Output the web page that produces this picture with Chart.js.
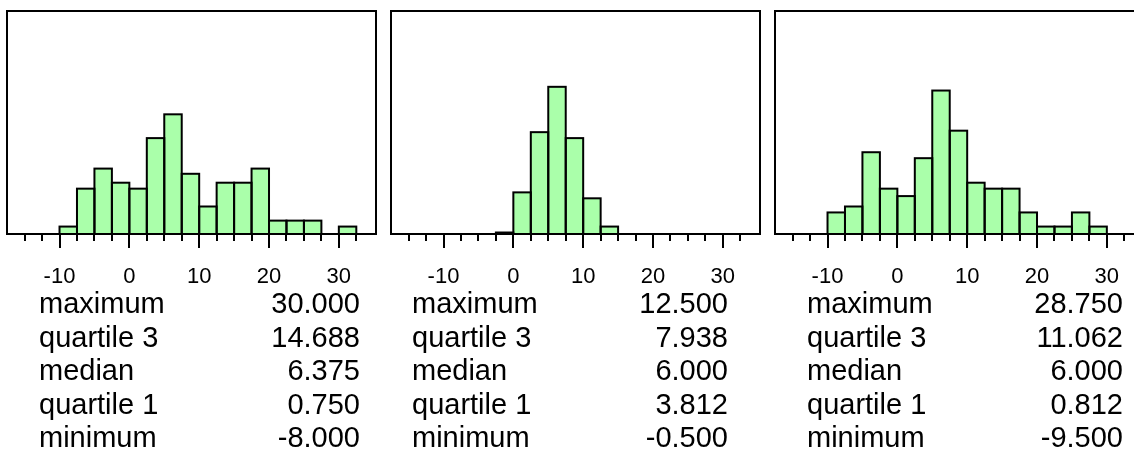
<!DOCTYPE html>
<html>
<head>
<meta charset="utf-8">
<title>Histograms</title>
<script src="https://cdn.jsdelivr.net/npm/chart.js"></script>
<style>
  html, body { margin: 0; padding: 0; background: #fff; overflow: hidden; }
  body { width: 1134px; height: 451px; position: relative; }
  canvas { position: absolute; top: 0; }
</style>
</head>
<body>
<canvas id="hist1" width="389" height="451"></canvas>
<canvas id="hist2" width="389" height="451"></canvas>
<canvas id="hist3" width="389" height="451"></canvas>
<script>
const binCenters1 = [-8.75, -6.25, -3.75, -1.25, 1.25, 3.75, 6.25, 8.75, 11.25, 13.75, 16.25, 18.75, 21.25, 23.75, 26.25, 28.75, 31.25];
const freq1 = [1.0, 6.1, 8.8, 6.9, 6.1, 12.9, 16.1, 8.1, 3.7, 6.9, 6.9, 8.8, 1.8, 1.8, 1.8, null, 1.0];

const binCenters2 = [-1.25, 1.25, 3.75, 6.25, 8.75, 11.25, 13.75];
const freq2 = [0.2, 5.6, 13.7, 19.8, 12.9, 4.8, 1.0];

const binCenters3 = [-8.75, -6.25, -3.75, -1.25, 1.25, 3.75, 6.25, 8.75, 11.25, 13.75, 16.25, 18.75, 21.25, 23.75, 26.25, 28.75];
const freq3 = [2.9, 3.7, 11.0, 6.1, 5.1, 10.2, 19.3, 13.9, 6.9, 6.1, 6.1, 2.9, 1.0, 1.0, 2.9, 1.0];

const statLabels = ["maximum", "quartile 3", "median", "quartile 1", "minimum"];
const stats1 = ["30.000", "14.688", "6.375", "0.750", "-8.000"];
const stats2 = ["12.500", "7.938", "6.000", "3.812", "-0.500"];
const stats3 = ["28.750", "11.062", "6.000", "0.812", "-9.500"];

const tickValues = [-15, -12.5, -10, -7.5, -5, -2.5, 0, 2.5, 5, 7.5, 10, 12.5, 15, 17.5, 20, 22.5, 25, 27.5, 30, 32.5];
const tickLabels = ["-10", "0", "10", "20", "30"];

const X_MIN = -16.2;
const X_MAX = 34.0;
const Y_MAX = 30;
const FONT = "'Liberation Sans', Arial, Helvetica, sans-serif";
const BAR_FILL = "#aaffaa";

const framePlugin = {
	id: "frame",
	afterDatasetsDraw(chart) {
		const { ctx, chartArea } = chart;
		const xs = chart.scales.x;
		ctx.save();
		ctx.strokeStyle = "#000";
		ctx.lineWidth = 2;

		// outline every bar, so shared edges come out as one line
		for (const bar of chart.getDatasetMeta(0).data) {
			const { x, y, base, width } = bar.getProps(["x", "y", "base", "width"], true);
			if (!Number.isFinite(y) || y === base) continue;
			ctx.strokeRect(x - width / 2, y, width, base - y);
		}

		ctx.strokeRect(chartArea.left, chartArea.top, chartArea.right - chartArea.left, chartArea.bottom - chartArea.top);
		for (const v of tickValues) {
			const px = Math.round(xs.getPixelForValue(v));
			const len = v % 10 === 0 ? 14 : 7;
			ctx.beginPath();
			ctx.moveTo(px, chartArea.bottom);
			ctx.lineTo(px, chartArea.bottom + len);
			ctx.stroke();
		}
		ctx.restore();
	},
	afterDraw(chart, args, opts) {
		const { ctx, chartArea } = chart;
		ctx.save();
		ctx.fillStyle = "#000";
		ctx.font = `29px ${FONT}`;
		ctx.textBaseline = "alphabetic";
		statLabels.forEach((label, i) => {
			const y = 313 + i * 33.5;
			ctx.textAlign = "left";
			ctx.fillText(label, chartArea.left + opts.labelX, y);
			ctx.textAlign = "right";
			ctx.fillText(opts.values[i], chartArea.left + opts.valueX, y);
		});
		ctx.restore();
	},
};

function makeHistogram(id, left, centers, freq, stats, labelX, valueX) {
	const canvas = document.getElementById(id);
	canvas.style.left = `${left - 10}px`;
	return new Chart(canvas, {
		type: "bar",
		data: {
			datasets: [
				{
					data: centers.map((c, i) => ({ x: c, y: freq[i] })),
					backgroundColor: BAR_FILL,
					borderWidth: 0,
					categoryPercentage: 1,
					barPercentage: 1,
					inflateAmount: 0,
				},
			],
		},
		options: {
			responsive: false,
			animation: false,
			devicePixelRatio: 1,
			layout: { padding: { left: 10, right: 10, top: 11, bottom: 157 } },
			plugins: {
				legend: { display: false },
				tooltip: { enabled: false },
				frame: { values: stats, labelX, valueX },
			},
			scales: {
				x: {
					type: "linear",
					min: X_MIN,
					max: X_MAX,
					grid: { display: false },
					border: { display: false },
					afterBuildTicks: (scale) => {
						scale.ticks = tickValues.map((v) => ({ value: v }));
					},
					afterFit: (scale) => {
						scale.height = 60;
					},
					ticks: {
						autoSkip: false,
						maxRotation: 0,
						padding: 22,
						color: "#000",
						font: { family: FONT, size: 22 },
						callback: (v) => (v % 10 === 0 ? tickLabels[(v + 10) / 10] : ""),
					},
				},
				y: {
					display: false,
					min: 0,
					max: Y_MAX,
				},
			},
		},
		plugins: [framePlugin],
	});
}

makeHistogram("hist1", 7, binCenters1, freq1, stats1, 32, 353);
makeHistogram("hist2", 391, binCenters2, freq2, stats2, 21, 337);
makeHistogram("hist3", 775, binCenters3, freq3, stats3, 32, 348);
</script>
</body>
</html>
